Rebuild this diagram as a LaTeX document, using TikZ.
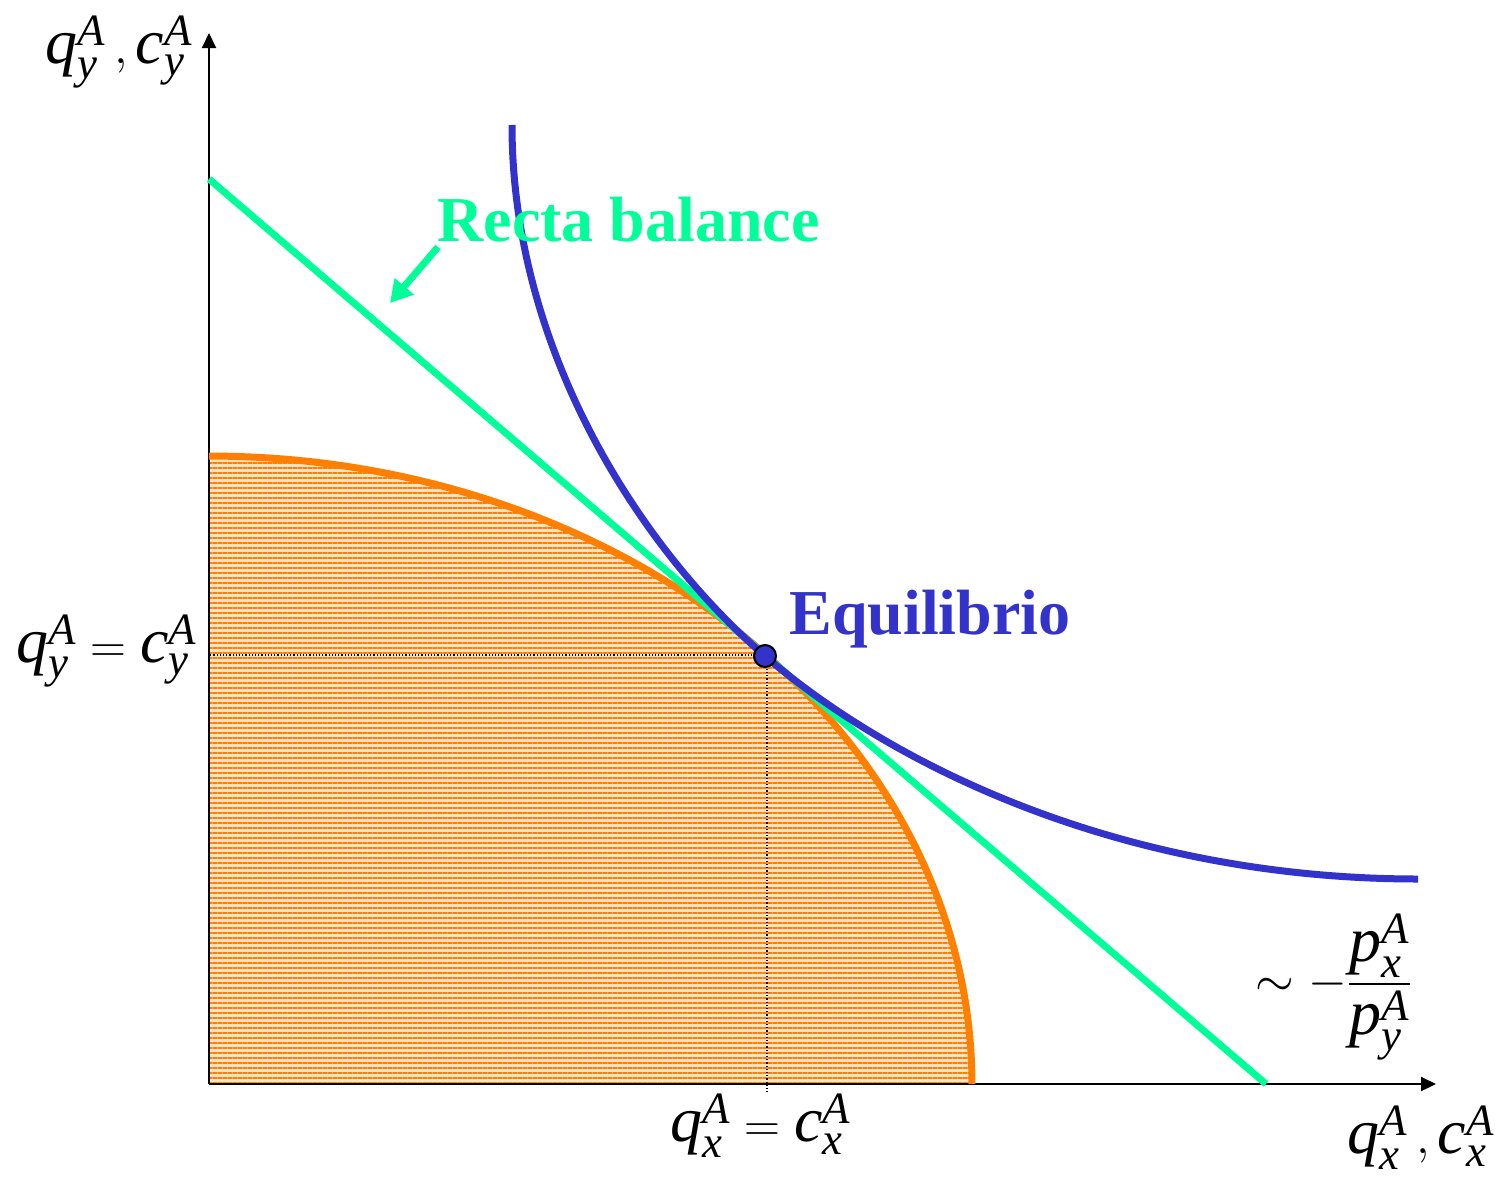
\documentclass[tikz,border=0pt]{standalone}
\usepackage{amsmath}
\usepackage{fontspec}
\setmainfont{Liberation Serif}
\usetikzlibrary{arrows.meta,patterns.meta}
\definecolor{BalGreen}{HTML}{00FF99}
\definecolor{EqBlue}{HTML}{3333CC}
\definecolor{PpfOrange}{HTML}{FF8000}
\newcommand{\qa}[2]{\textit{#1}^{\textit{A}}_{\textit{#2}}}

\begin{document}
\begin{tikzpicture}[x=0.5pt, y=-0.5pt,
    axis/.style={line width=1pt,-{Triangle[length=7.5pt,width=7pt]}},
    guide/.style={densely dotted,line width=0.6pt},
    lbl/.style={font=\fontsize{32}{38}\selectfont,inner sep=0pt}]
  \useasboundingbox (0,0) rectangle (1499,1178);
  % production frontier
  \fill[PpfOrange!22,postaction={pattern={Lines[angle=0,distance=2.5pt,line width=1.1pt]},pattern color=PpfOrange}]
    (209,1084) -- plot[domain=90:0,samples=80] ({209+763*cos(\x)},{1084-628*sin(\x)}) -- cycle;
  \coordinate (O) at (209,1084);
  \coordinate (ytop) at (209,33);
  \coordinate (xend) at (1436,1084);
  \draw[axis] (O) -- (ytop);
  \draw[axis] (O) -- (xend);
  \draw[PpfOrange,line width=3.5pt] plot[domain=90:0,samples=80] ({209+763*cos(\x)},{1084-628*sin(\x)});
  % budget line
  \coordinate (bl1) at (209,179);
  \coordinate (bl2) at (1266,1084);
  \draw[BalGreen,line width=3.5pt] (bl1) -- (bl2);
  % indifference curve
  \coordinate (ic1) at (512,125);
  \coordinate (ic2) at (1418,879);
  \draw[EqBlue,line width=3.5pt] (ic1) .. controls (512,355) and (645,553) .. (765,656)
    .. controls (905,776) and (1138,879) .. (ic2);
  % equilibrium and guides
  \coordinate (yq) at (209,655);
  \coordinate (xq) at (767,1092);
  \draw[guide] (765,655) -- (yq);
  \draw[guide] (767,656) -- (xq);
  \node[circle,draw,line width=1pt,fill=EqBlue,minimum size=11pt,inner sep=0pt] (eq) at (765,656) {};
  \node[anchor=base west,inner sep=0pt,text=EqBlue,font=\bfseries\fontsize{32}{38}\selectfont] (eqlbl) at (789,634) {Equilibrio};
  \node[anchor=base west,inner sep=0pt,text=BalGreen,font=\bfseries\fontsize{32}{38}\selectfont] (recta) at (437,241) {Recta balance};
  \coordinate (arrtip) at (390,303);
  \draw[BalGreen,line width=3.5pt,-{Triangle[length=11pt,width=12pt]}] (438,247) -- (arrtip);
  % axis labels
  \node[lbl] (ylab) at (119,52) {$\qa{q}{y}\,,\qa{c}{y}$};
  \node[lbl] (xlab) at (1421,1138) {$\qa{q}{x}\,,\qa{c}{x}$};
  \node[lbl] (yeq) at (107,651) {$\qa{q}{y}=\qa{c}{y}$};
  \node[lbl] (xeq) at (761,1126) {$\qa{q}{x}=\qa{c}{x}$};
  \node[lbl] (slope) at (1334,987) {$\sim-\dfrac{\qa{p}{x}}{\qa{p}{y}}$};
\end{tikzpicture}
\end{document}
